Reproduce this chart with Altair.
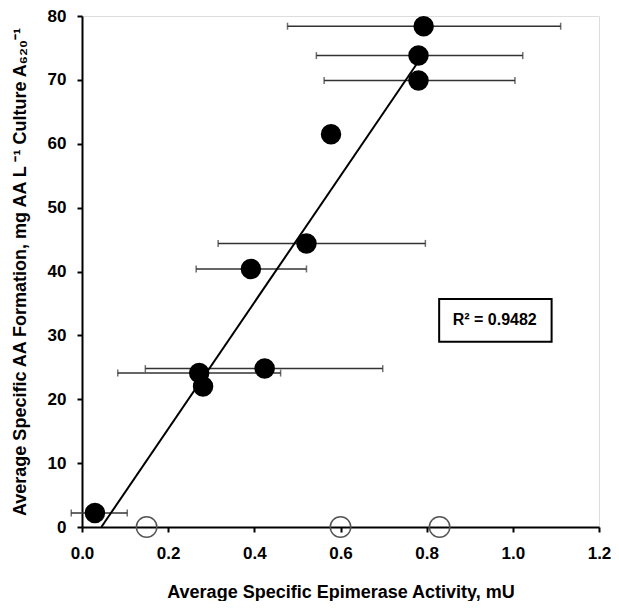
import altair as alt
import pandas as pd

# Filled points (with horizontal error bars where present)
pt_x = [0.030, 0.272, 0.281, 0.424, 0.392, 0.521, 0.578, 0.793, 0.781, 0.781]
pt_y = [2.2, 24.1, 22.0, 24.8, 40.4, 44.4, 61.5, 78.4, 73.8, 69.9]

# Horizontal error bars: y, low, high
err_y = [2.2, 24.1, 24.8, 40.4, 44.4, 78.4, 73.8, 69.9]
err_lo = [-0.025, 0.083, 0.147, 0.265, 0.316, 0.477, 0.544, 0.562]
err_hi = [0.105, 0.461, 0.698, 0.521, 0.797, 1.111, 1.023, 1.005]

# Open circles (no AA formation)
open_x = [0.15, 0.60, 0.83]
open_y = [0.0, 0.0, 0.0]

# Linear fit line
fit_x = [0.045, 0.78]
fit_y = [0.0, 72.8]

# R^2 annotation box
box_x = [0.829]
box_x2 = [1.090]
box_y = [29.0]
box_y2 = [35.7]
label_x = [0.958]
label_y = [32.4]
label_text = ["R² = 0.9482"]

FONT = "Liberation Sans"

pts = pd.DataFrame({"x": pt_x, "y": pt_y})
errs = pd.DataFrame({"y": err_y, "lo": err_lo, "hi": err_hi})
opens = pd.DataFrame({"x": open_x, "y": open_y})
fit = pd.DataFrame({"x": fit_x, "y": fit_y})
box = pd.DataFrame({"x": box_x, "x2": box_x2, "y": box_y, "y2": box_y2})
lab = pd.DataFrame({"x": label_x, "y": label_y, "t": label_text})

xscale = alt.Scale(domain=[0, 1.2], nice=False, padding=0, zero=False)
yscale = alt.Scale(domain=[0, 80], nice=False, padding=0)

xaxis = alt.Axis(
    title="Average Specific Epimerase Activity, mU",
    values=[0, 0.2, 0.4, 0.6, 0.8, 1.0, 1.2],
    format=".1f",
    grid=False, labelFlush=False,
    domainColor="black", domainWidth=2,
    tickColor="black", tickWidth=2, tickSize=5,
    labelFont=FONT, labelFontSize=17, labelFontWeight="bold", labelColor="black",
    labelPadding=13,
    titleFont=FONT, titleFontSize=18, titleFontWeight="bold", titleColor="black",
    titlePadding=22,
)
yaxis = alt.Axis(
    title="Average Specific AA Formation, mg AA  L ⁻¹ Culture A₆₂₀⁻¹",
    values=[0, 10, 20, 30, 40, 50, 60, 70, 80],
    grid=False, labelFlush=False,
    domainColor="black", domainWidth=2,
    tickColor="black", tickWidth=2, tickSize=5,
    labelFont=FONT, labelFontSize=17, labelFontWeight="bold", labelColor="black",
    labelPadding=11,
    titleFont=FONT, titleFontSize=18, titleFontWeight="bold", titleColor="black",
    titleX=-62, titleBaseline="middle",
)

base_x = alt.X("x:Q", scale=xscale, axis=xaxis)
base_y = alt.Y("y:Q", scale=yscale, axis=yaxis)

errbars = alt.Chart(errs).mark_rule(color="#333333", strokeWidth=1.5).encode(
    x=alt.X("lo:Q", scale=xscale, axis=xaxis), x2="hi:Q", y=alt.Y("y:Q", scale=yscale, axis=yaxis)
)
cap_lo = alt.Chart(errs).mark_tick(color="#333333", thickness=1.5, size=7, orient="vertical").encode(
    x=alt.X("lo:Q", scale=xscale), y=alt.Y("y:Q", scale=yscale)
)
cap_hi = alt.Chart(errs).mark_tick(color="#333333", thickness=1.5, size=7, orient="vertical").encode(
    x=alt.X("hi:Q", scale=xscale), y=alt.Y("y:Q", scale=yscale)
)
line = alt.Chart(fit).mark_line(color="black", strokeWidth=2).encode(x=base_x, y=base_y)
filled = alt.Chart(pts).mark_circle(color="black", opacity=1, size=420).encode(x=base_x, y=base_y)
opened = alt.Chart(opens).mark_point(
    shape="circle", filled=False, color="#555555", strokeWidth=1.5, size=420, opacity=1
).encode(x=base_x, y=base_y)
rect = alt.Chart(box).mark_rect(fill="white", stroke="black", strokeWidth=2).encode(
    x=alt.X("x:Q", scale=xscale), x2="x2:Q", y=alt.Y("y:Q", scale=yscale), y2="y2:Q"
)
text = alt.Chart(lab).mark_text(
    font=FONT, fontSize=16, fontWeight="bold", color="black"
).encode(x=alt.X("x:Q", scale=xscale), y=alt.Y("y:Q", scale=yscale), text="t:N")

chart = alt.layer(errbars, cap_lo, cap_hi, line, filled, opened, rect, text).properties(
    width=517,
    height=511,
    autosize=alt.AutoSizeParams(type="none"),
    padding={"left": 74, "top": 8, "right": 12, "bottom": 74},
).configure_view(stroke=None).configure(background="white")

chart.save("out.html", embed_options={"renderer": "svg", "actions": False})
